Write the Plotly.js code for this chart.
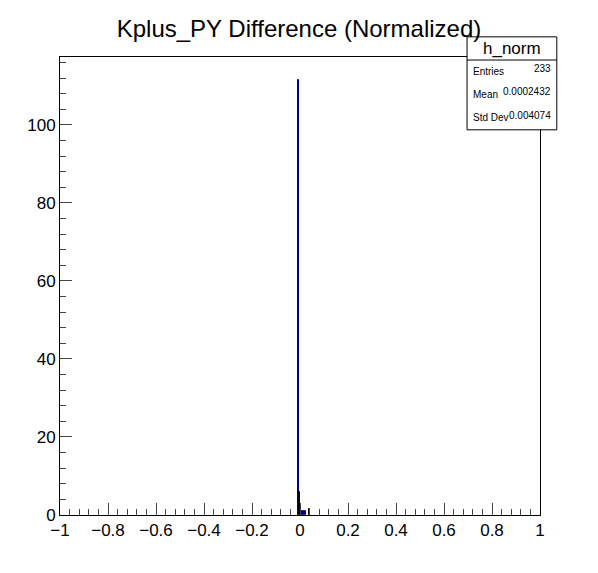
<!DOCTYPE html>
<html>
<head>
<script src="https://cdn.plot.ly/plotly-3.0.1.min.js"></script>
<style>body{margin:0;background:#fff}</style>
</head>
<body>
<div id="chart" style="width:598px;height:573px"></div>
<script>
// bins of h_norm (width 0.004)
const binCenters = [-0.006, -0.002, 0.010, 0.014, 0.022, 0.038]
const binValues = [111.5, 6, 1, 1, 1, 1.5]
const binColors = ['#000099', '#000000', '#000099', '#000099', '#000099', '#000000']

const statLabels = ['Entries', 'Mean', 'Std Dev']
const statValues = ['233', '0.0002432', '0.004074']

const trace = {
  type: 'bar',
  x: binCenters,
  y: binValues,
  width: 0.004,
  marker: { color: binColors, line: { color: binColors, width: 1 } },
  hoverinfo: 'x+y'
}

const box = { x0: 0.848, x1: 1.035, y0: 0.841, y1: 1.044 }
const shapes = [
  { type: 'rect', xref: 'paper', yref: 'paper', x0: box.x0, x1: box.x1, y0: box.y0, y1: box.y1,
    fillcolor: '#fff', line: { color: '#000', width: 1 } },
  { type: 'line', xref: 'paper', yref: 'paper', x0: box.x0, x1: box.x1, y0: 0.9934, y1: 0.9934,
    line: { color: '#000', width: 1 } }
]
const annotations = [
  { xref: 'paper', yref: 'paper', x: (box.x0 + box.x1) / 2, y: 1.019, xanchor: 'center', yanchor: 'middle',
    text: 'h_norm', showarrow: false, font: { size: 17, color: '#000' } }
]
statLabels.forEach((lab, i) => {
  const y = 0.969 - i * 0.051
  annotations.push({ xref: 'paper', yref: 'paper', x: box.x0 + 0.008, y: y, xanchor: 'left', yanchor: 'middle',
    text: lab, showarrow: false, font: { size: 10, color: '#000' } })
  annotations.push({ xref: 'paper', yref: 'paper', x: box.x1 - 0.008, y: y + 0.006, xanchor: 'right', yanchor: 'middle',
    text: statValues[i], showarrow: false, font: { size: 10, color: '#000' } })
})

const layout = {
  width: 598,
  height: 573,
  margin: { l: 60, r: 58, t: 57, b: 58 },
  font: { family: 'Liberation Sans, Arial, sans-serif', color: '#000' },
  title: { text: 'Kplus_PY Difference (Normalized)', x: 0.5, y: 0.965, font: { size: 24 } },
  showlegend: false,
  bargap: 0,
  plot_bgcolor: '#fff',
  paper_bgcolor: '#fff',
  xaxis: {
    range: [-1, 1], dtick: 0.2, ticks: 'inside', ticklen: 12, showgrid: false, zeroline: false,
    showline: true, mirror: true, linecolor: '#000', tickfont: { size: 17 },
    minor: { dtick: 0.04, ticks: 'inside', ticklen: 6, showgrid: false }
  },
  yaxis: {
    range: [0, 117.4], dtick: 20, ticks: 'inside', ticklen: 12, showgrid: false, zeroline: false,
    showline: true, mirror: true, linecolor: '#000', tickfont: { size: 17 },
    minor: { dtick: 4, ticks: 'inside', ticklen: 6, showgrid: false }
  },
  shapes: shapes,
  annotations: annotations
}

Plotly.newPlot('chart', [trace], layout, { displayModeBar: false })
</script>
</body>
</html>
